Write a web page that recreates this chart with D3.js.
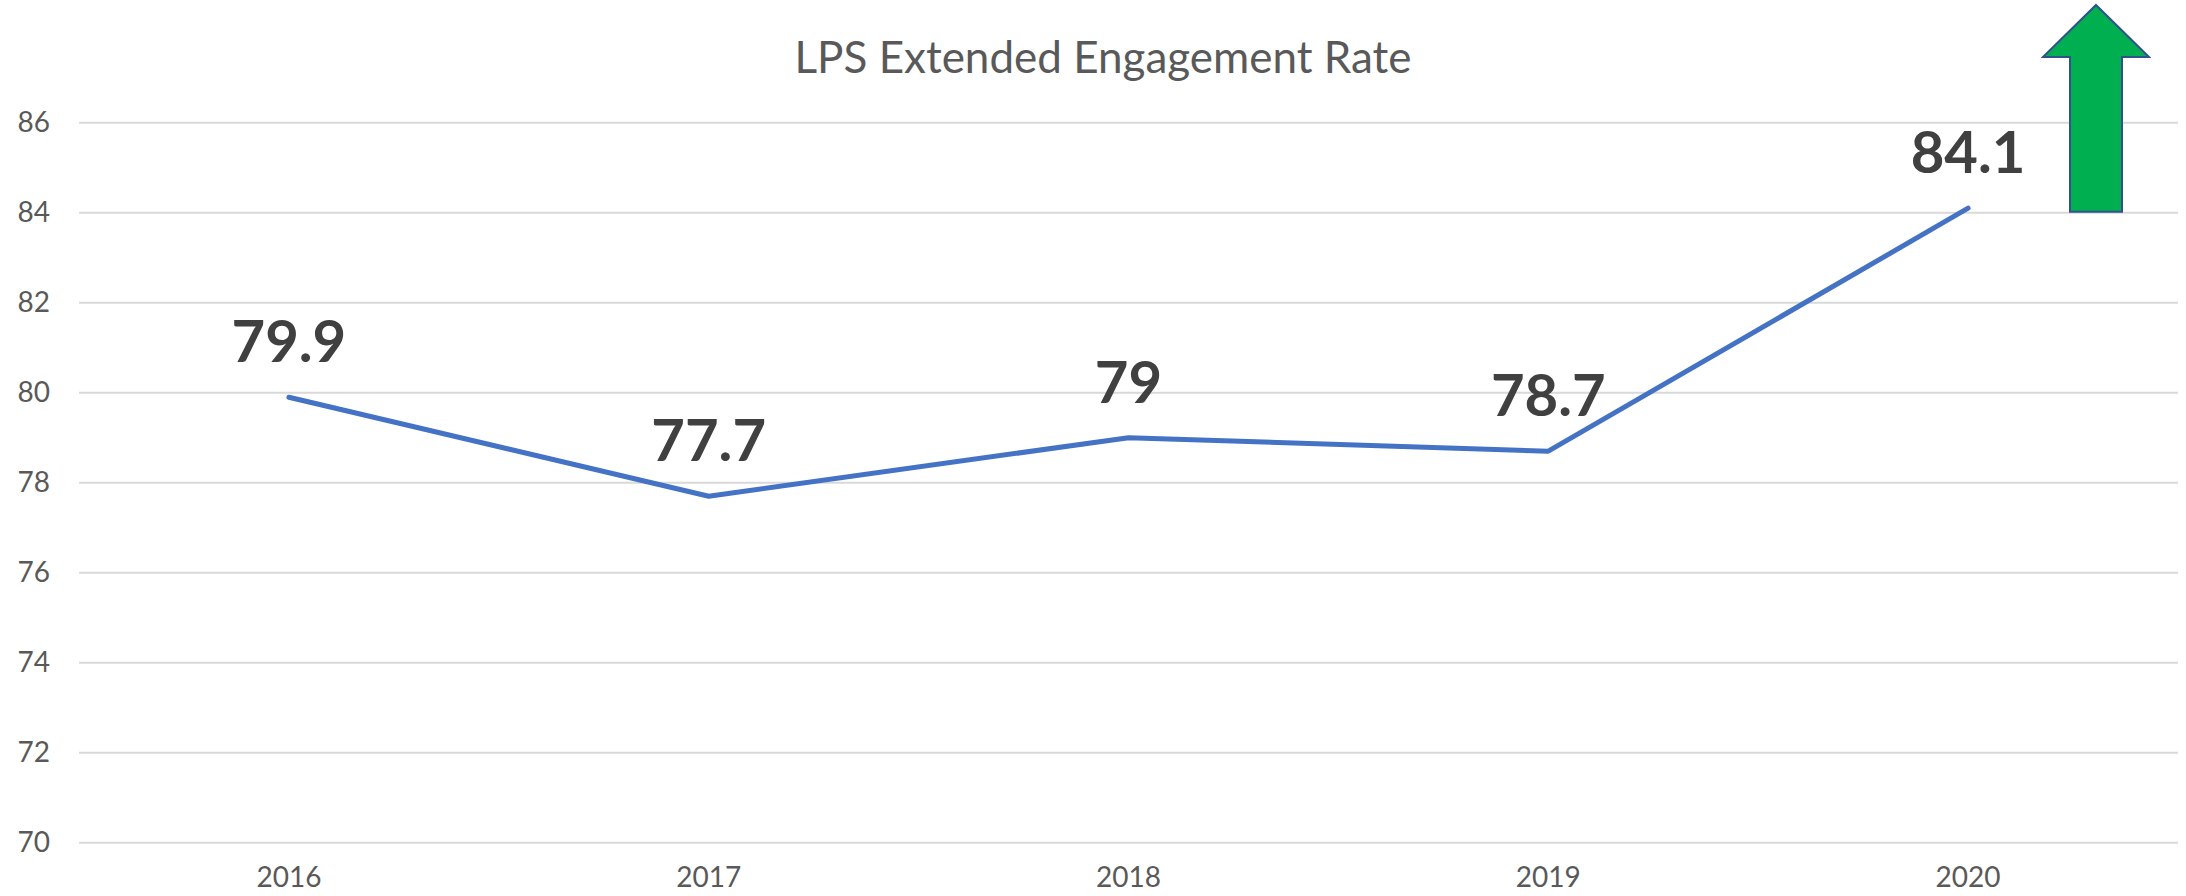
<!DOCTYPE html>
<html>
<head>
<meta charset="utf-8">
<script src="https://cdn.jsdelivr.net/npm/d3@7"></script>
<style>
  body { margin: 0; background: #fff; }
  text { font-family: Lato, "Open Sans", sans-serif; }
</style>
</head>
<body>
<svg id="chart" width="2186" height="896"></svg>
<script>
// data
var years = ["2016", "2017", "2018", "2019", "2020"];
var rates = [79.9, 77.7, 79, 78.7, 84.1];
var yTicks = [70, 72, 74, 76, 78, 80, 82, 84, 86];
var titleText = "LPS Extended Engagement Rate";

var svg = d3.select("#chart");
// plot area edges (don't use "top" as a global, it's window.top)
var plotLeft = 79, plotRight = 2178, plotTop = 122.7, plotBottom = 842.7;

var x = d3.scaleBand().domain(years).range([plotLeft, plotRight]).padding(0);
var y = d3.scaleLinear().domain([70, 86]).range([plotBottom, plotTop]);
var cx = function(d) { return x(d) + x.bandwidth() / 2; };

// gridlines
svg.append("g")
  .selectAll("line")
  .data(yTicks)
  .enter()
  .append("line")
  .attr("x1", plotLeft).attr("x2", plotRight)
  .attr("y1", d => y(d)).attr("y2", d => y(d))
  .style("stroke", "#d9d9d9")
  .style("stroke-width", "2px");

// y axis labels
var yAxis = d3.axisLeft(y).tickValues(yTicks).tickSize(0).tickPadding(0);
var gy = svg.append("g").attr("transform", "translate(50,0)").call(yAxis);
gy.select(".domain").remove();
gy.attr("font-family", null).attr("font-size", null);
gy.selectAll("text")
  .style("font-size", "28px")
  .style("fill", "#595959");

// x axis labels (kept just inside the bottom edge)
var xAxis = d3.axisBottom(x).tickSize(0).tickPadding(0);
var gx = svg.append("g").attr("transform", "translate(0,867)").call(xAxis);
gx.select(".domain").remove();
gx.attr("font-family", null).attr("font-size", null);
gx.selectAll("text")
  .style("font-size", "28px")
  .style("fill", "#595959")
  .attr("dy", "0.71em");

// title
svg.append("text")
  .attr("x", 1103).attr("y", 73)
  .attr("text-anchor", "middle")
  .style("font-size", "44px")
  .style("fill", "#595959")
  .text(titleText);

// the line
var line = d3.line()
  .x((d, i) => cx(years[i]))
  .y(d => y(d));
svg.append("path")
  .datum(rates)
  .attr("d", line)
  .style("fill", "none")
  .style("stroke", "#4472c4")
  .style("stroke-width", "5px")
  .style("stroke-linecap", "round")
  .style("stroke-linejoin", "round");

// data labels
svg.append("g")
  .selectAll("text")
  .data(rates)
  .enter()
  .append("text")
  .attr("x", (d, i) => cx(years[i]))
  .attr("y", d => y(d) - 35)
  .attr("text-anchor", "middle")
  .style("font-size", "58px")
  .style("font-weight", "bold")
  .style("fill", "#404040")
  .text(d => d);

// green up arrow next to the last point
var ax = 2096, shaftHalf = 26, headHalf = 53, tipY = 5, headY = 57, baseY = y(84) - 1;
var arrow = [
  [ax, tipY], [ax + headHalf, headY], [ax + shaftHalf, headY], [ax + shaftHalf, baseY],
  [ax - shaftHalf, baseY], [ax - shaftHalf, headY], [ax - headHalf, headY]
];
svg.append("polygon")
  .attr("points", arrow.map(p => p.join(",")).join(" "))
  .style("fill", "#00b050")
  .style("stroke", "#2f528f")
  .style("stroke-width", "2px");
</script>
</body>
</html>
